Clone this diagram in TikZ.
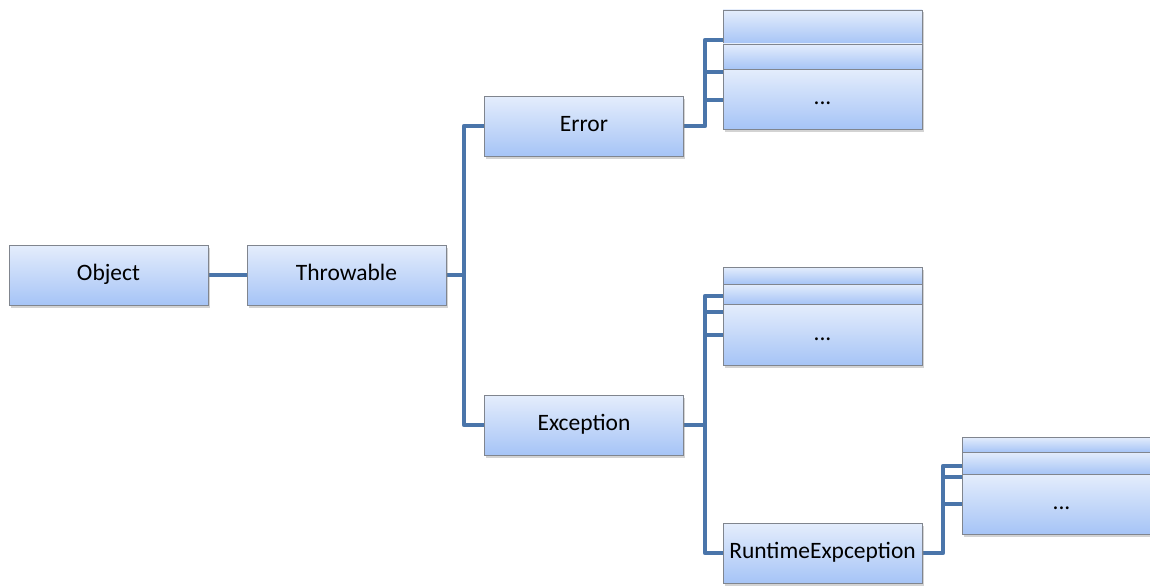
\documentclass[tikz,border=0pt]{standalone}
\usepackage{fontspec}
\setmainfont{Carlito}
\usetikzlibrary{shadows,backgrounds}
\definecolor{wireblue}{RGB}{74,117,170}
\definecolor{boxtop}{RGB}{228,237,252}
\definecolor{boxbot}{RGB}{166,196,246}
\definecolor{boxline}{RGB}{128,133,142}
\tikzset{
  cls/.style={draw=boxline, line width=0.9pt, top color=boxtop, bottom color=boxbot,
    minimum width=199pt, minimum height=#1, inner sep=0pt,
    font=\fontsize{23.5}{28}\selectfont,
    drop shadow={shadow xshift=1.5pt, shadow yshift=-2.5pt, opacity=0.35}},
  cls/.default=60pt,
  link/.style={draw=wireblue, line width=4.5pt, line join=round},
}
\begin{document}
\begin{tikzpicture}[x=1pt, y=-1pt]
  \clip (0,0) rectangle (1150,586);

  % main hierarchy
  \node[cls] (obj) at (108.5,275) {\strut Object};
  \node[cls] (thr) at (346.5,275) {\strut Throwable};
  \node[cls] (err) at (584,126)   {\strut Error};
  \node[cls] (exc) at (584,425)   {\strut Exception};
  \node[cls] (rt)  at (822.5,553) {\strut RuntimeExpception};

  % subclasses of Error
  \node[cls=34pt] (ea) at (822.5,27)   {};
  \node[cls=25pt] (eb) at (822.5,56.5) {};
  \node[cls=60pt] (ec) at (822.5,99)   {\strut ...};

  % subclasses of Exception
  \node[cls=17pt] (xa) at (822.5,275.5) {};
  \node[cls=20pt] (xb) at (822.5,294)   {};
  \node[cls=61pt] (xc) at (822.5,334.5) {\strut ...};

  % subclasses of RuntimeExpception
  \node[cls=15pt] (ra) at (1061.5,444.5) {};
  \node[cls=22pt] (rb) at (1061.5,463)   {};
  \node[cls=60pt] (rc) at (1061.5,504)   {\strut ...};

  % junctions and stub ends
  \coordinate (tj) at (464,275);
  \coordinate (ej) at (705,126);
  \coordinate (xj) at (705,425);
  \coordinate (rj) at (943,553);
  \coordinate (e1) at (723,40);
  \coordinate (e2) at (723,72);
  \coordinate (e3) at (723,100);
  \coordinate (x1) at (723,296);
  \coordinate (x2) at (723,312);
  \coordinate (x3) at (723,335);
  \coordinate (r1) at (962,466);
  \coordinate (r2) at (962,477);
  \coordinate (r3) at (962,504);

  \begin{scope}[on background layer]
    \draw[link] (obj.east) -- (thr.west);
    \draw[link] (thr.east) -- (tj);
    \draw[link] (err.west) -| (tj) |- (exc.west);

    \draw[link] (err.east) -- (ej) |- (e1);
    \draw[link] (ej |- e2) -- (e2);
    \draw[link] (ej |- e3) -- (e3);

    \draw[link] (exc.east) -- (xj);
    \draw[link] (x1) -| (xj) |- (rt.west);
    \draw[link] (xj |- x2) -- (x2);
    \draw[link] (xj |- x3) -- (x3);

    \draw[link] (rt.east) -- (rj) |- (r1);
    \draw[link] (rj |- r2) -- (r2);
    \draw[link] (rj |- r3) -- (r3);
  \end{scope}
\end{tikzpicture}
\end{document}
